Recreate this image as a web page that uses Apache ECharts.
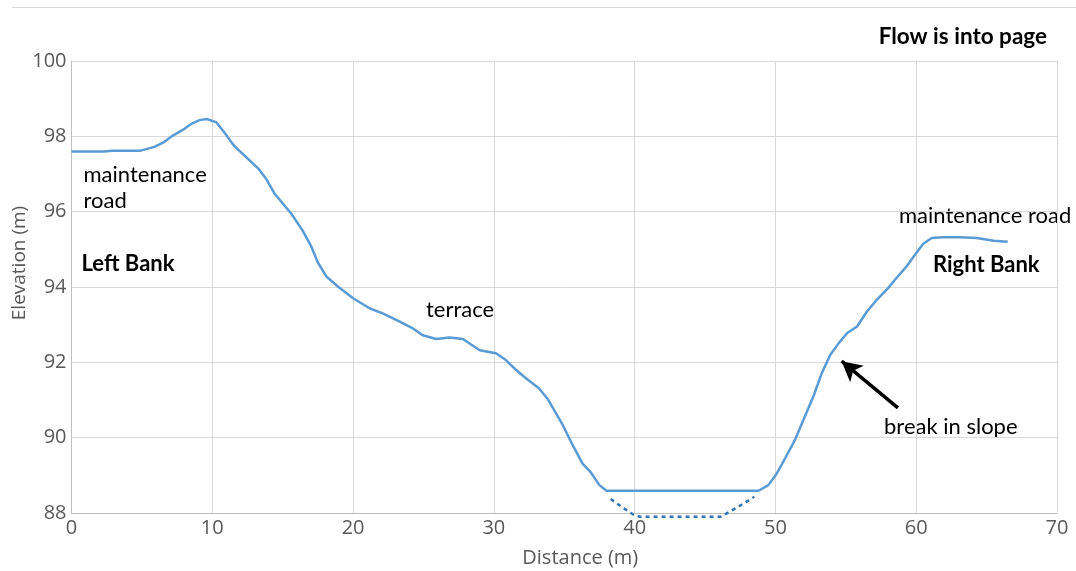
<!DOCTYPE html>
<html>
<head>
<meta charset="utf-8">
<script src="https://cdn.jsdelivr.net/npm/echarts@6/dist/echarts.min.js"></script>
<style>
html,body{margin:0;padding:0;background:#fff;overflow:hidden;}
#chart{width:1076px;height:571px;}
</style>
</head>
<body>
<div id="chart"></div>
<script>
// Surveyed ground profile (distance m, elevation m)
const distance = [0, 2.3, 2.9, 4.9, 5.9, 6.5, 7.2, 7.9, 8.5, 9.1, 9.6, 10.3, 10.9, 11.5, 12.0, 13.25, 13.85, 14.4, 15.6, 16.4, 17.0, 17.5, 18.1, 18.9, 20.0, 21.2, 22.1, 23.1, 24.25, 24.95, 25.9, 26.85, 27.8, 29.0, 30.15, 30.85, 31.6, 32.3, 33.2, 33.8, 34.9, 35.6, 36.3, 36.9, 37.5, 38.0, 48.8, 49.5, 50.1, 50.7, 51.4, 52.0, 52.7, 53.3, 53.9, 54.5, 55.1, 55.8, 56.5, 57.2, 58.0, 58.6, 59.3, 59.9, 60.5, 61.1, 61.9, 63.1, 64.3, 65.5, 66.5];
const elevation = [97.6, 97.6, 97.62, 97.62, 97.72, 97.83, 98.02, 98.17, 98.33, 98.43, 98.46, 98.37, 98.08, 97.77, 97.59, 97.15, 96.86, 96.49, 95.95, 95.51, 95.1, 94.65, 94.28, 94.02, 93.7, 93.43, 93.3, 93.12, 92.9, 92.72, 92.62, 92.66, 92.62, 92.32, 92.24, 92.06, 91.79, 91.57, 91.31, 91.04, 90.33, 89.8, 89.31, 89.07, 88.74, 88.59, 88.59, 88.74, 89.05, 89.46, 89.95, 90.48, 91.1, 91.72, 92.2, 92.51, 92.78, 92.95, 93.35, 93.66, 93.97, 94.24, 94.54, 94.85, 95.15, 95.3, 95.32, 95.32, 95.3, 95.23, 95.2];
// Channel bed (dashed)
const bedDistance = [38.3, 39.2, 39.9, 40.4, 46.1, 47.2, 48.5];
const bedElevation = [88.37, 88.13, 87.96, 87.9, 87.9, 88.13, 88.43];
// Arrow "break in slope": tail -> head
const arrowFrom = [58.7, 90.79];
const arrowTo = [54.7, 92.03];
const xTicks = [0, 10, 20, 30, 40, 50, 60, 70];
const yTicks = [88, 90, 92, 94, 96, 98, 100];

const profile = distance.map((d, i) => [d, elevation[i]]);
const bed = bedDistance.map((d, i) => [d, bedElevation[i]]);

const axisFont = '"Open Sans", sans-serif';
const noteFont = 'Lato, "Open Sans", sans-serif';
const chart = echarts.init(document.getElementById('chart'), null, {renderer: 'canvas', width: 1076, height: 571});
chart.setOption({
  animation: false,
  backgroundColor: '#ffffff',
  grid: {left: 71.5, top: 61, width: 985.5, height: 452, containLabel: false, outerBoundsMode: 'none'},
  xAxis: {
    type: 'value', min: xTicks[0], max: xTicks[xTicks.length - 1], interval: 10,
    name: 'Distance (m)', nameLocation: 'middle', nameGap: 35, nameMoveOverlap: false,
    nameTextStyle: {fontFamily: axisFont, fontSize: 20, color: '#595959', padding: [0, 0, 0, 32]},
    axisLine: {lineStyle: {color: '#bfbfbf', width: 1}},
    axisTick: {show: false},
    axisLabel: {fontFamily: axisFont, fontSize: 20, color: '#595959', margin: 5},
    splitLine: {lineStyle: {color: '#d9d9d9', width: 1}}
  },
  yAxis: {
    type: 'value', min: yTicks[0], max: yTicks[yTicks.length - 1], interval: 2,
    name: 'Elevation (m)', nameLocation: 'middle', nameGap: 42, nameMoveOverlap: false,
    nameTextStyle: {fontFamily: axisFont, fontSize: 19, color: '#595959', padding: [0, 0, 0, 48]},
    axisLine: {show: true, lineStyle: {color: '#bfbfbf', width: 1}},
    axisTick: {show: false},
    axisLabel: {fontFamily: axisFont, fontSize: 20, color: '#595959', margin: 5},
    splitLine: {lineStyle: {color: '#d9d9d9', width: 1}}
  },
  series: [
    {
      type: 'line', data: profile, showSymbol: false, smooth: false,
      lineStyle: {color: '#5b9bd5', width: 2.5},
      markLine: {
        silent: true, symbol: ['none', 'arrow'], symbolSize: [16, 20],
        label: {show: false},
        lineStyle: {color: '#000', width: 3.5, type: 'solid'},
        data: [[{coord: arrowFrom}, {coord: arrowTo}]]
      }
    },
    {
      type: 'line', data: bed, showSymbol: false, clip: false,
      lineStyle: {color: '#2e75b6', width: 2.5, type: [4, 4]}
    }
  ],
  graphic: [
    {type: 'line', shape: {x1: 12, y1: 7.5, x2: 1076, y2: 7.5}, style: {stroke: '#d9d9d9', lineWidth: 1}},
    {type: 'text', style: {text: 'Flow is into page', x: 1047, y: 37, align: 'right', verticalAlign: 'middle', font: 'bold 22.5px ' + noteFont, fill: '#000'}},
    {type: 'text', style: {text: 'maintenance', x: 83.5, y: 175, align: 'left', verticalAlign: 'middle', font: '22px ' + noteFont, fill: '#000'}},
    {type: 'text', style: {text: 'road', x: 83.5, y: 201, align: 'left', verticalAlign: 'middle', font: '22px ' + noteFont, fill: '#000'}},
    {type: 'text', style: {text: 'Left Bank', x: 81.5, y: 264, align: 'left', verticalAlign: 'middle', font: 'bold 22px ' + noteFont, fill: '#000'}},
    {type: 'text', style: {text: 'terrace', x: 426, y: 310, align: 'left', verticalAlign: 'middle', font: '22px ' + noteFont, fill: '#000'}},
    {type: 'text', style: {text: 'maintenance road', x: 899, y: 216, align: 'left', verticalAlign: 'middle', font: '22px ' + noteFont, fill: '#000'}},
    {type: 'text', style: {text: 'Right Bank', x: 933, y: 265, align: 'left', verticalAlign: 'middle', font: 'bold 22px ' + noteFont, fill: '#000'}},
    {type: 'text', style: {text: 'break in slope', x: 884, y: 427, align: 'left', verticalAlign: 'middle', font: '22px ' + noteFont, fill: '#000'}}
  ]
});
</script>
</body>
</html>
